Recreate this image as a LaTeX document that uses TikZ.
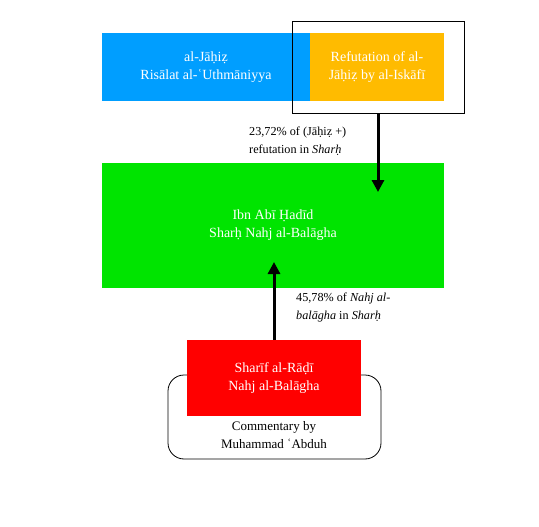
\documentclass[tikz,border=0pt]{standalone}
\usepackage{fontspec}
\setmainfont{Liberation Serif}
\usetikzlibrary{arrows.meta}
\definecolor{cblue}{RGB}{0,158,255}
\definecolor{corange}{RGB}{255,187,0}
\definecolor{cgreen}{RGB}{0,228,0}
\definecolor{cred}{RGB}{255,0,0}
\tikzset{
  box/.style={inner sep=0pt, text=white, align=center, font=\fontsize{14}{18}\selectfont},
  lbl/.style={inner sep=0pt, align=left, anchor=north west, font=\fontsize{12.2}{18}\selectfont},
  conn/.style={line width=3pt, -{Triangle[width=12pt,length=12pt]}}
}
\begin{document}
\begin{tikzpicture}[x=1pt,y=-1pt]
\useasboundingbox (0,0) rectangle (539,527);
% rounded background box
\node[draw, rounded corners=16pt, minimum width=213pt, minimum height=84pt, inner sep=0pt, line width=0.8pt] (comm) at (274.5,417) {};
\node[box, fill=cblue, minimum width=208pt, minimum height=68pt] (jahiz) at (206,67) {al-Jāḥiẓ\\Risālat al-ʿUthmāniyya};
\node[box, fill=corange, minimum width=134pt, minimum height=68pt] (refut) at (377,67) {Refutation of al-\\Jāḥiẓ by al-Iskāfī};
\node[draw, line width=0.8pt, minimum width=172pt, minimum height=92pt, inner sep=0pt] (frame) at (378,67) {};
\node[box, fill=cgreen, minimum width=342pt, minimum height=125pt] (sharh) at (273,225.5) {Ibn Abī Ḥadīd\\Sharḥ Nahj al-Balāgha};
\node[box, fill=cred, minimum width=174pt, minimum height=76pt] (radi) at (274,378) {Sharīf al-Rāḍī\\Nahj al-Balāgha};
\node[inner sep=0pt, align=center, font=\fontsize{13}{18}\selectfont] (commtxt) at (274,435) {Commentary by\\Muhammad ʿAbduh};
\coordinate (tipA) at (378,192);
\coordinate (tipB) at (274,262);
\draw[conn] (frame.south -| tipA) -- (tipA);
\draw[conn] (radi.north -| tipB) -- (tipB);
\node[lbl] (l1) at (249,127) {23,72\% of (Jāḥiẓ +)\\refutation in \textit{Sharḥ}};
\node[lbl] (l2) at (296,293) {45,78\% of \textit{Nahj al-}\\\textit{balāgha} in \textit{Sharḥ}};
\end{tikzpicture}
\end{document}
